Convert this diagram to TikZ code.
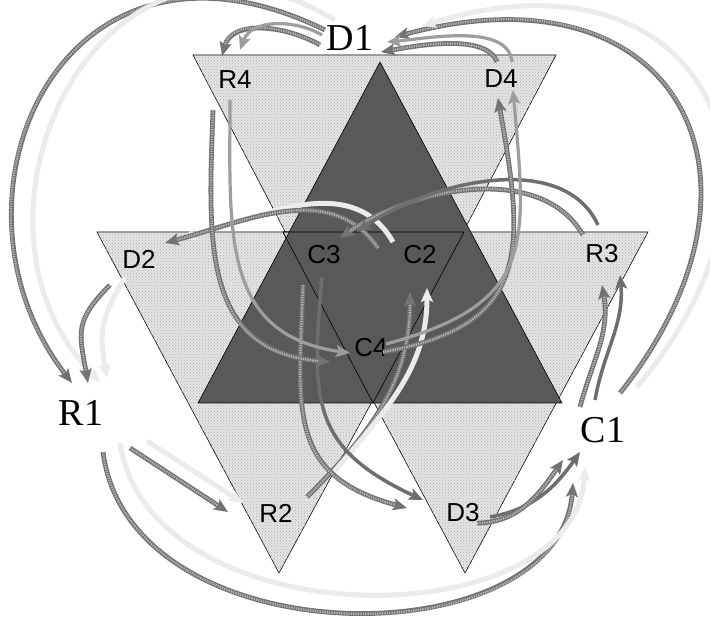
\documentclass[tikz,border=0pt]{standalone}
\usepackage{fontspec}
\setmainfont{Liberation Serif}
\setsansfont{Liberation Sans}
\usetikzlibrary{arrows.meta,patterns}

\begin{document}
\begin{tikzpicture}[
  x=1pt, y=1pt,
  >={Stealth[length=14pt,width=12pt,inset=3pt]},
% 1. Pale dotted triangles
  litetri/.style={
    draw=black,
    line width=0.6pt,
    fill=black!10,
    postaction={pattern=crosshatch dots, pattern color=black!32}
  },
% 2. Dark centre triangle
  darktri/.style={
    draw=black,
    line width=0.6pt,
    fill=black!65
  },
% 3. Labels: big serif ones outside, small sans ones in the triangles
  big/.style={font=\fontsize{38}{40}\selectfont, inner sep=0pt},
  small/.style={font=\sffamily\fontsize{26}{28}\selectfont, inner sep=0pt},
% 4. The four kinds of strands (the rough one gets a dotted core)
  texline/.style={->, draw=black!55, line width=4.8pt,
    postaction={draw=black!28, -, line width=2.2pt,
      dash pattern=on 1.2pt off 1.2pt, shorten >=12pt}},
  greyline/.style={->, draw=black!38, line width=3.2pt},
  darkline/.style={->, draw=black!57, line width=3.5pt},
  paleline/.style={->, draw=black!8, line width=5pt}
]

  \useasboundingbox[fill=white] (0,0) rectangle (710,620);

  % Pale ground: three large triangles pointing down
  \filldraw[litetri] (193,565) -- (556,565) -- (374,218) -- cycle;
  \filldraw[litetri] (97,388) -- (464,388) -- (279,47) -- cycle;
  \filldraw[litetri] (283,388) -- (648,388) -- (465,47) -- cycle;
  % Dark triangle on top, inner triangle outline over it
  \filldraw[darktri] (380,558) -- (198,217) -- (562,217) -- cycle;
  \draw[line width=0.6pt] (283,388) -- (464,388) -- (373,217) -- cycle;

  % Labels
  \node[big] (D1) at (350,582) {D1};
  \node[big] (R1) at (81,207) {R1};
  \node[big] (C1) at (603,190) {C1};
  \node[small] (R4) at (235,540) {R4};
  \node[small] (D4) at (501,541) {D4};
  \node[small] (D2) at (139,361) {D2};
  \node[small] (C3) at (324,365) {C3};
  \node[small] (C2) at (420,365) {C2};
  \node[small] (R3) at (602,366) {R3};
  \node[small] (C4) at (371,272) {C4};
  \node[small] (R2) at (276,107) {R2};
  \node[small] (D3) at (463,107) {D3};

  % D1 -> R4
  \draw[texline] ([shift={(-30,-7)}]D1.center) to[out=150,in=75] ([shift={(-13,24)}]R4.center);
  \draw[greyline] ([shift={(-28,3)}]D1.center) to[out=150,in=70] ([shift={(5,30)}]R4.center);

  % D1 -> R1, round the left side
  \draw[texline] ([shift={(-25,8)}]D1.center) .. controls (60,720) and (-70,420) .. ([shift={(-9,30)}]R1.center);
  \draw[paleline] ([shift={(-15,18)}]D1.center) .. controls (100,740) and (-60,400) .. ([shift={(19,31)}]R1.center);

  % D2 -> R1
  \draw[texline] ([shift={(-29,-26)}]D2.center) to[out=225,in=100,looseness=1.3] ([shift={(7,30)}]R1.center);
  \draw[paleline] ([shift={(-14,-18)}]D2.center) to[out=240,in=100,looseness=1.2] ([shift={(26,35)}]R1.center);

  % R1 -> R2
  \draw[texline] ([shift={(49,-35)}]R1.center) -- ([shift={(-48,1)}]R2.center);
  \draw[paleline] ([shift={(66,-28)}]R1.center) -- ([shift={(-33,10)}]R2.center);

  % R1 -> C1, along the bottom
  \draw[texline] ([shift={(22,-39)}]R1.center) .. controls (130,-40) and (560,-40) .. ([shift={(-30,-53)}]C1.center);
  \draw[paleline] ([shift={(39,-30)}]R1.center) .. controls (150,-20) and (575,-20) .. ([shift={(-18,-37)}]C1.center);

  % R2 -> C2
  \draw[texline] ([shift={(31,16)}]R2.center) to[out=45,in=270] ([shift={(-10,-37)}]C2.center);
  \draw[paleline] ([shift={(57,40)}]R2.center) to[out=50,in=270] ([shift={(7,-33)}]C2.center);

  % C2 -> D2
  \draw[paleline] ([shift={(-27,13)}]C2.center) to[out=120,in=15] ([shift={(43,21)}]D2.center);
  \draw[texline] ([shift={(-42,7)}]C2.center) to[out=125,in=15] ([shift={(26,16)}]D2.center);

  % R3 -> C3
  \draw[texline] ([shift={(-19,19)}]R3.center) to[out=120,in=35,looseness=0.9] ([shift={(16,17)}]C3.center);
  \draw[darkline] ([shift={(-4,29)}]R3.center) to[out=115,in=35,looseness=0.9] ([shift={(33,23)}]C3.center);

  % C3 -> D3
  \draw[darkline] ([shift={(-2,-22)}]C3.center) to[out=265,in=155,looseness=1.3] ([shift={(-40,13)}]D3.center);
  \draw[texline] ([shift={(-21,-30)}]C3.center) to[out=268,in=165,looseness=1.3] ([shift={(-56,5)}]D3.center);

  % D3 -> C1
  \draw[darkline] ([shift={(27,-4)}]D3.center) to[out=10,in=235] ([shift={(-23,-22)}]C1.center);
  \draw[texline] ([shift={(14,-10)}]D3.center) to[out=0,in=235] ([shift={(-40,-30)}]C1.center);

  % C1 -> R3
  \draw[texline] ([shift={(-23,23)}]C1.center) to[out=75,in=280] ([shift={(0,-31)}]R3.center);
  \draw[darkline] ([shift={(-8,30)}]C1.center) to[out=80,in=275] ([shift={(18,-21)}]R3.center);

  % C1 -> D1, round the right side
  \draw[texline] ([shift={(17,37)}]C1.center) .. controls (790,440) and (680,660) .. ([shift={(45,1)}]D1.center);
  \draw[paleline] ([shift={(34,43)}]C1.center) .. controls (820,450) and (700,680) .. ([shift={(72,12)}]D1.center);

  % D4 -> D1
  \draw[texline] ([shift={(-4,17)}]D4.center) to[out=110,in=10,looseness=0.7] ([shift={(31,-14)}]D1.center);
  \draw[greyline] ([shift={(11,17)}]D4.center) to[out=95,in=5,looseness=0.8] ([shift={(37,-4)}]D1.center);

  % R4 -> C4
  \draw[texline] ([shift={(-22,-30)}]R4.center) to[out=268,in=175,looseness=1.2] ([shift={(-41,-14)}]C4.center);
  \draw[greyline] ([shift={(-5,-20)}]R4.center) to[out=270,in=172,looseness=1.2] ([shift={(-21,-5)}]C4.center);

  % C4 -> D4
  \draw[texline] ([shift={(12,-4)}]C4.center) to[out=10,in=280,looseness=1.4] ([shift={(-3,-19)}]D4.center);
  \draw[greyline] ([shift={(15,4)}]C4.center) to[out=15,in=275,looseness=1.4] ([shift={(12,-11)}]D4.center);

\end{tikzpicture}
\end{document}
